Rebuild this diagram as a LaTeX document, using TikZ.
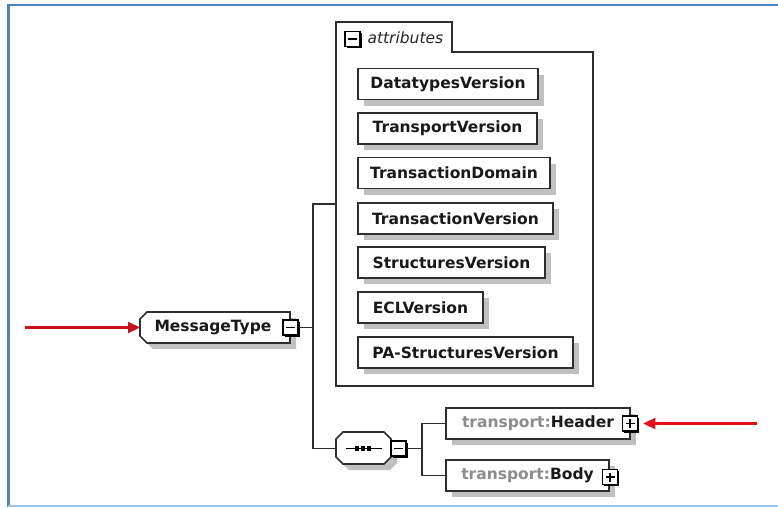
\documentclass[tikz,border=0pt]{standalone}
\usepackage{fontspec}
\setmainfont{DejaVu Sans}
\usetikzlibrary{shadows,arrows.meta}

\definecolor{frameblue}{HTML}{4F81BD}
\definecolor{framelight}{HTML}{9DC3E6}
\definecolor{shadegray}{HTML}{C0C0C0}
\definecolor{edgegray}{HTML}{2E2E2E}
\definecolor{nsgray}{HTML}{8C8C8C}
\definecolor{redleft}{HTML}{C8101C}
\definecolor{redright}{HTML}{E81018}

\tikzset{
  lbl/.style={font=\fontsize{15.5}{18}\selectfont\bfseries, text=black!90},
  boxshadow/.style={drop shadow={shadow xshift=6pt, shadow yshift=-6pt, fill=shadegray, opacity=1}},
  elbox/.style={draw=edgegray, line width=1.7pt, fill=white, minimum height=31pt,
    inner sep=0pt, boxshadow, lbl},
  btn/.style={draw=black, line width=1.5pt, fill=white, minimum size=15pt, inner sep=0pt,
    drop shadow={shadow xshift=1.5pt, shadow yshift=-1.5pt, fill=black, opacity=1}},
  minusbtn/.style={btn, path picture={
    \draw[line width=1.1pt] ([xshift=3pt]path picture bounding box.west)
      -- ([xshift=-3pt]path picture bounding box.east);}},
  plusbtn/.style={btn, path picture={
    \draw[line width=1.1pt] ([xshift=3pt]path picture bounding box.west)
      -- ([xshift=-3pt]path picture bounding box.east)
      ([yshift=-3pt]path picture bounding box.north)
      -- ([yshift=3pt]path picture bounding box.south);}},
  octo/.style={draw=edgegray, fill=white, line width=1.7pt, boxshadow},
  link/.style={draw=edgegray, line width=1.7pt},
  pointer/.style={line width=2.2pt, -{Triangle[length=12pt,width=11pt]}},
}

\begin{document}
\begin{tikzpicture}[x=1pt,y=-1pt]
\useasboundingbox (0,0) rectangle (778,507);

% page frame
\draw[frameblue, line width=2.8pt] (7,5) -- (778,5);
\draw[frameblue, line width=2.8pt] (8.5,4) -- (8.5,507);
\draw[framelight, line width=1.4pt] (8,506) -- (778,506);

% attributes group with its tab
\draw[edgegray, line width=1.7pt]
  (336,52) -- (336,22) -- (452,22) -- (452,52) -- (593,52) -- (593,386) -- (336,386) -- cycle;
\node[minimum width=257pt, minimum height=364pt, inner sep=0pt] (abox) at (464.5,204) {};
\node[minusbtn] (attm) at (352.5,39) {};
\node[anchor=west, font=\fontsize{15.5}{18}\selectfont\itshape, text=black!85] (attl) at (364,38) {attributes};

\node[elbox, minimum width=180pt] (a1) at (448,84)    {DatatypesVersion};
\node[elbox, minimum width=179pt] (a2) at (447.5,128.5) {TransportVersion};
\node[elbox, minimum width=192pt] (a3) at (454,173)   {TransactionDomain};
\node[elbox, minimum width=195pt] (a4) at (455.5,218.5) {TransactionVersion};
\node[elbox, minimum width=187pt] (a5) at (451.5,262.5) {StructuresVersion};
\node[elbox, minimum width=125pt] (a6) at (420.5,307.5) {ECLVersion};
\node[elbox, minimum width=215pt] (a7) at (465.5,352.5) {PA-StructuresVersion};

% root element
\path[octo] (147,312) -- (290,312) -- (290,343) -- (147,343) -- (140,336) -- (140,319) -- cycle;
\node[lbl, minimum width=150pt, minimum height=31pt, inner sep=0pt] (mt) at (213,327.5) {MessageType};
\coordinate (mtw) at (140,327.5);
\node[minusbtn] (mtm) at (290.5,327.5) {};

% sequence compositor
\path[octo] (343,432) -- (384,432) -- (391,439) -- (391,457) -- (384,464) -- (343,464)
  -- (336,457) -- (336,439) -- cycle;
\node[minimum width=55pt, minimum height=32pt, inner sep=0pt] (seq) at (363.5,448.5) {};
\draw[black, line width=1.3pt] (346,448.5) -- (382,448.5);
\foreach \dx in {357,363,369} \fill[black] (\dx-2.2,446.3) rectangle (\dx+2.2,450.7);
\node[minusbtn] (seqm) at (398.5,448.5) {};

% child elements
\node[elbox, minimum width=184pt] (hdr) at (538,423.5)
  {{\color{nsgray}transport:}Header};
\node[plusbtn] (hdrp) at (630,423.5) {};
\node[elbox, minimum width=163pt] (body) at (527.5,475.5)
  {{\color{nsgray}transport:}Body};
\node[plusbtn] (bodyp) at (610,477) {};

% tree connectors
\coordinate (j1) at (313,327.5);
\coordinate (j2) at (422,448.5);
\draw[link] (mtm.east) -- (j1);
\draw[link] (j1) |- (abox.west);
\draw[link] (j1) |- (seq.west);
\draw[link] (seqm.east) -- (j2);
\draw[link] (j2) |- (hdr.west);
\draw[link] (j2) |- (body.west);

% red pointers
\coordinate (lstart) at (25,327.5);
\coordinate (rstart) at (757,423.5);
\draw[pointer, redleft] (lstart) -- (mtw);
\draw[pointer, redright, shorten >=5pt] (rstart) -- (hdrp.east);
\end{tikzpicture}
\end{document}
